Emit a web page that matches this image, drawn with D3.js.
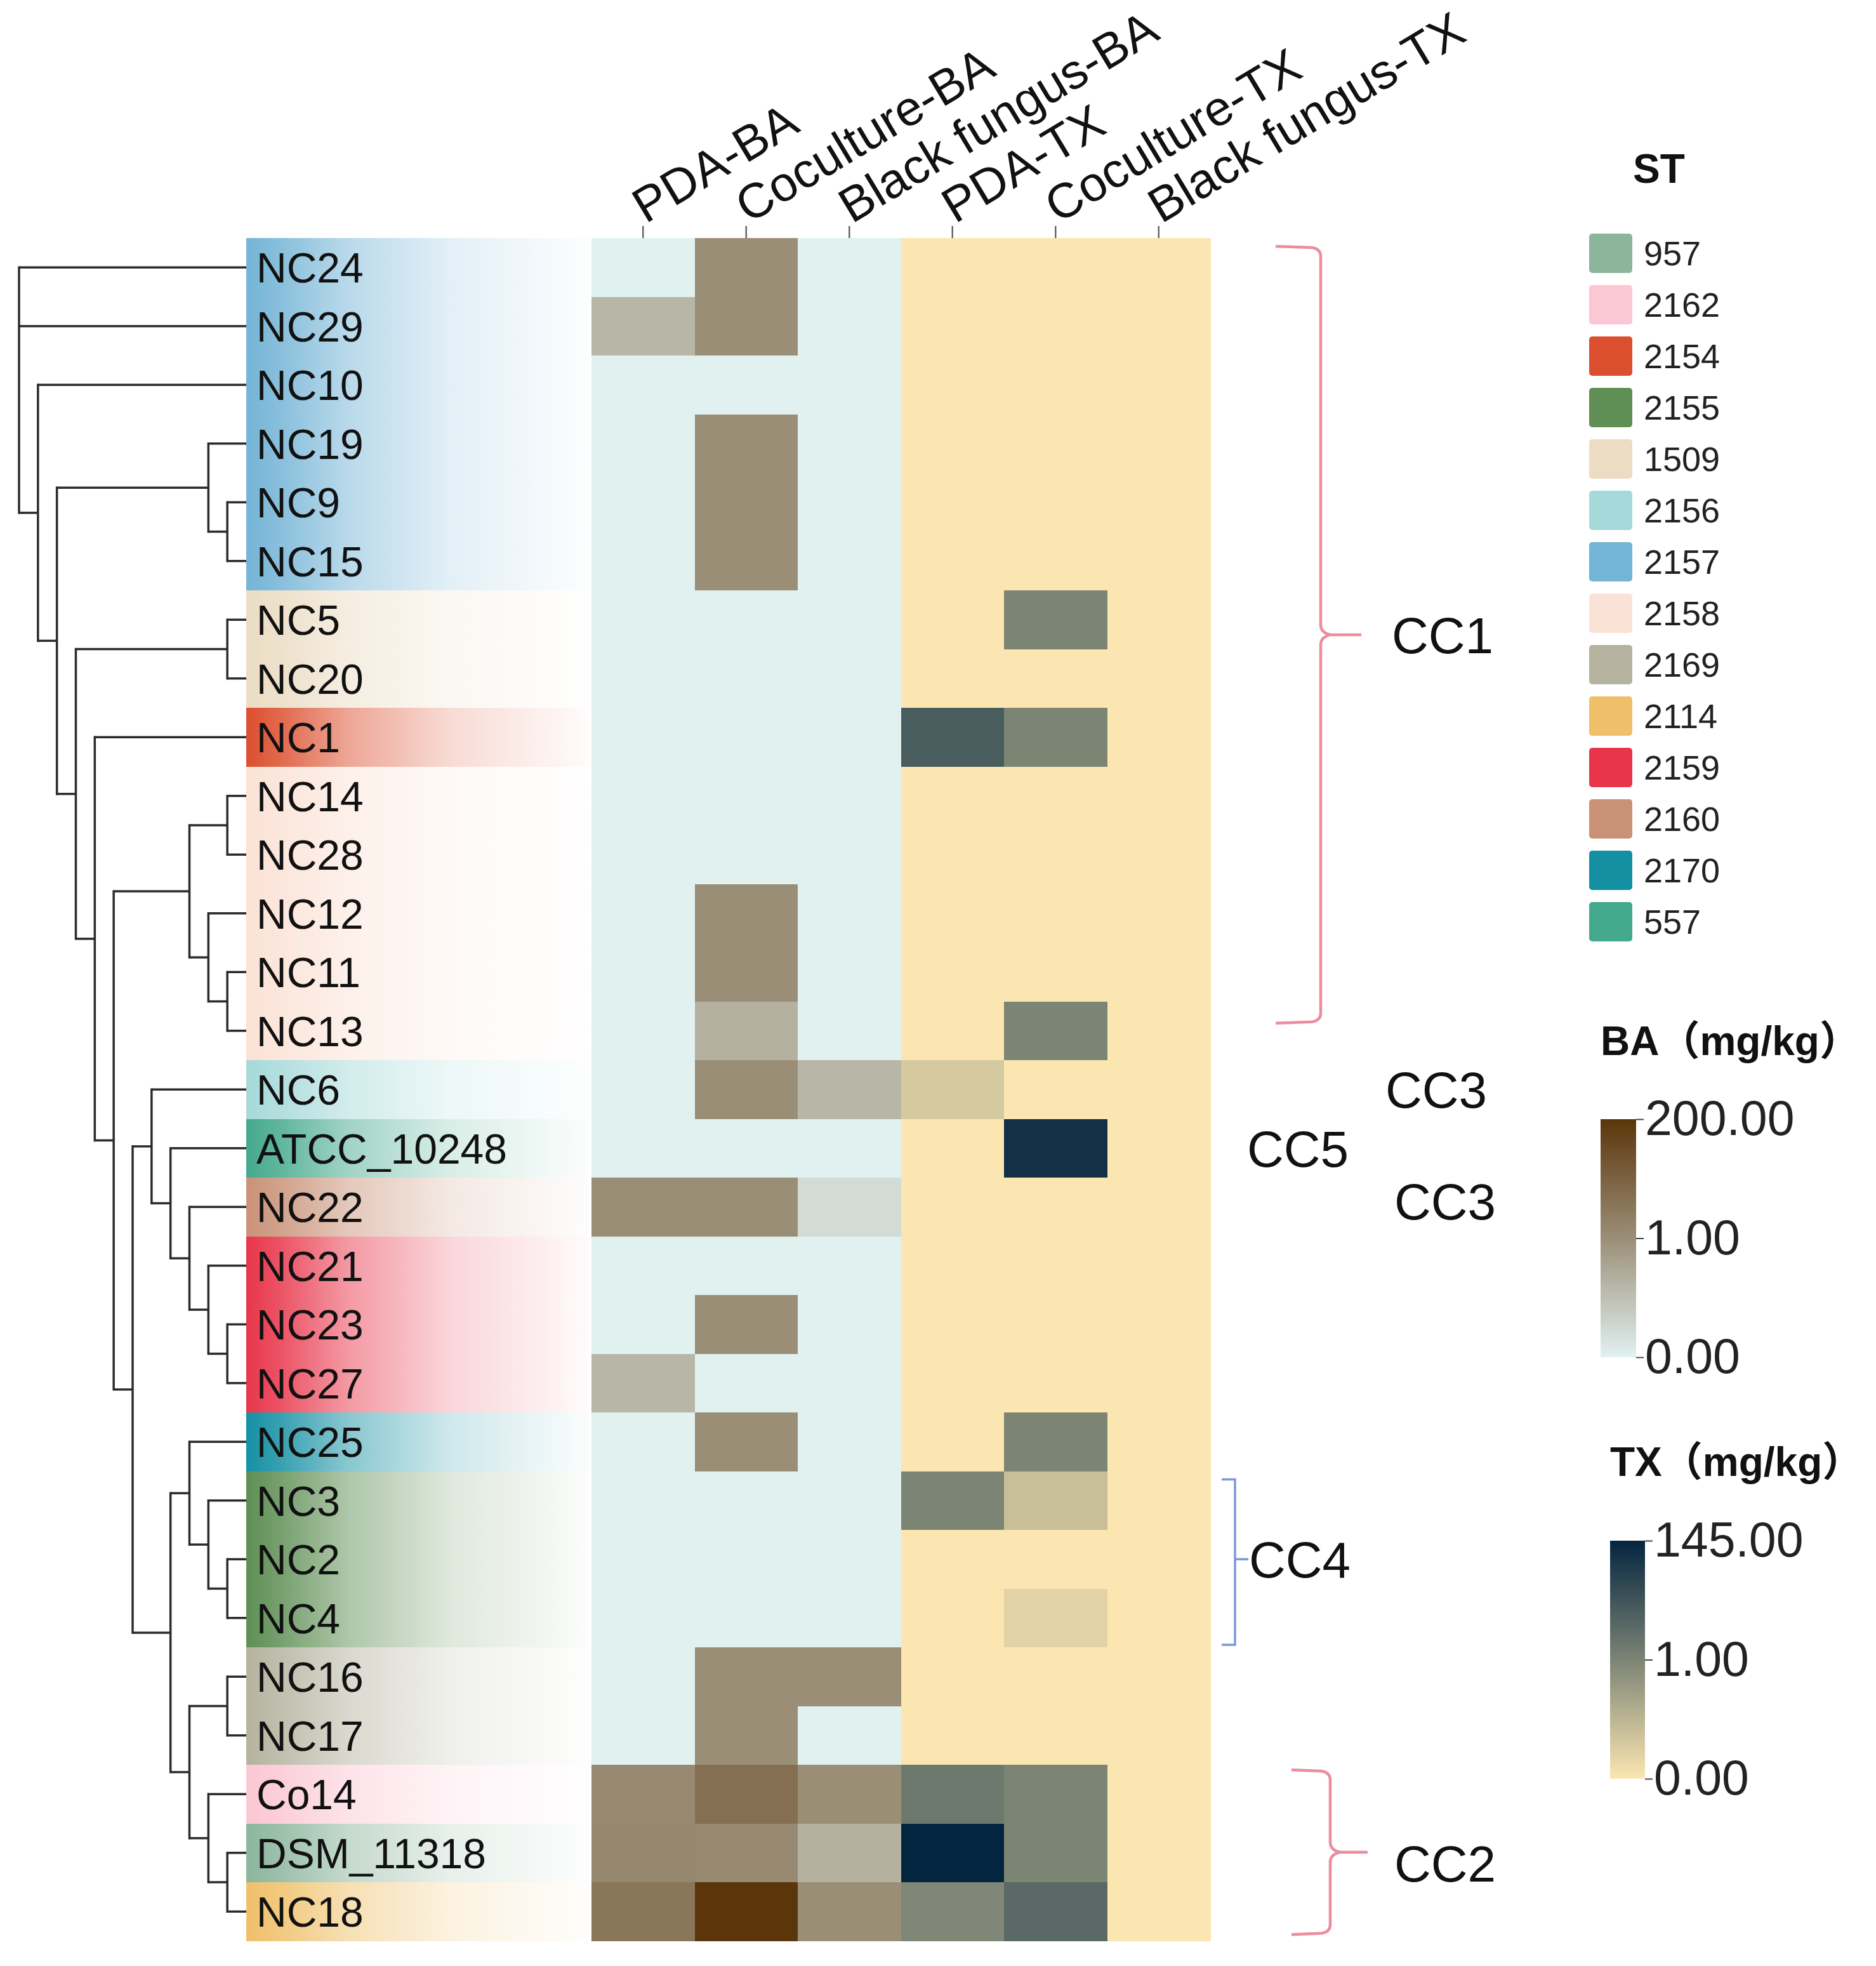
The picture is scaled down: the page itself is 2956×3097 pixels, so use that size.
<!DOCTYPE html>
<html><head><meta charset="utf-8">
<script src="https://cdn.jsdelivr.net/npm/d3@7"></script>
<style>html,body{margin:0;padding:0;background:#fff;} svg{display:block;}</style>
</head><body>
<svg id="chart" width="2956" height="3097"></svg>
<script>
// ---------------- DATA ----------------
const strains = ["NC24","NC29","NC10","NC19","NC9","NC15","NC5","NC20","NC1","NC14","NC28","NC12","NC11","NC13","NC6","ATCC_10248","NC22","NC21","NC23","NC27","NC25","NC3","NC2","NC4","NC16","NC17","Co14","DSM_11318","NC18"];
const strainST = ["2157","2157","2157","2157","2157","2157","1509","1509","2154","2158","2158","2158","2158","2158","2156","557","2160","2159","2159","2159","2170","2155","2155","2155","2169","2169","2162","957","2114"];
const columns = ["PDA-BA","Coculture-BA","Black fungus-BA","PDA-TX","Coculture-TX","Black fungus-TX"];
const baColumns = ["PDA-BA","Coculture-BA","Black fungus-BA"];
const txColumns = ["PDA-TX","Coculture-TX","Black fungus-TX"];
// BA (mg/kg): [PDA-BA, Coculture-BA, Black fungus-BA]
const baValues = [
  [0,1,0],[0.6,1,0],[0,0,0],[0,1,0],[0,1,0],[0,1,0],[0,0,0],[0,0,0],[0,0,0],[0,0,0],
  [0,0,0],[0,1,0],[0,1,0],[0,0.65,0],[0,1,0.6],[0,0,0],[1,1,0.22],[0,0,0],[0,1,0],[0.6,0,0],
  [0,1,0],[0,0,0],[0,0,0],[0,0,0],[0,1,1],[0,1,0],[10,70,1],[16,11,0.65],[54,200,1]
];
// TX (mg/kg): [PDA-TX, Coculture-TX, Black fungus-TX]
const txValues = [
  [0,0,0],[0,0,0],[0,0,0],[0,0,0],[0,0,0],[0,0,0],[0,1,0],[0,0,0],[62,1,0],[0,0,0],
  [0,0,0],[0,0,0],[0,0,0],[0,1,0],[0.3,0,0],[0,128,0],[0,0,0],[0,0,0],[0,0,0],[0,0,0],
  [0,1,0],[1,0.4,0],[0,0,0],[0,0.2,0],[0,0,0],[0,0,0],[18,1,0],[145,1,0],[0.97,42,0]
];
const stTypes  = ["957","2162","2154","2155","1509","2156","2157","2158","2169","2114","2159","2160","2170","557"];
const stColors = ["#8cb59c","#fbc7d4","#dc4f2e","#5f8f55","#ebdcc3","#a6d9d9","#74b4d6","#fbe2d6","#b5b39f","#efc069","#e8354a","#c99278","#1590a3","#44a98c"];
const baTicks = [0,1,200];
const baColors = ["#e1f1f0","#9b8e77","#5b360b"];
const txTicks = [0,1,145];
const txColors = ["#fbe6b1","#7c8474","#042540"];
// dendrogram topology (leaves in plotting order)
const tree = ["NC24","NC29",["NC10",[["NC19",["NC9","NC15"]],[["NC5","NC20"],["NC1",[[["NC14","NC28"],["NC12",["NC11","NC13"]]],[["NC6",["ATCC_10248",["NC22",["NC21",["NC23","NC27"]]]]],[["NC25",["NC3",["NC2","NC4"]]],[["NC16","NC17"],["Co14",["DSM_11318","NC18"]]]]]]]]]]];
// clonal complex annotations
const ccLabels = ["CC1","CC3","CC5","CC3","CC4","CC2"];
const ccRows   = ["NC9","NC6","ATCC_10248","NC22","NC2","DSM_11318"];

// ---------------- LAYOUT ----------------
const FONT = "'Liberation Sans', Arial, 'Noto Sans CJK SC', sans-serif";
const svg = d3.select("#chart");
const rowTop = 375, rowBottom = 3057.5;
const y = d3.scaleBand(strains, [rowTop, rowBottom]);
const x = d3.scaleBand(columns, [932, 1907]);
const stColor = d3.scaleOrdinal(stTypes, stColors);
const baScale = d3.scaleLinear(baTicks, baColors);
const txScale = d3.scaleLinear(txTicks, txColors);
const defs = svg.append("defs");

// ---- label bands with gradient ----
const bandX0 = 388, bandX1 = 928;
strains.forEach((s, i) => {
  const c = stColor(strainST[i]);
  const gid = "band" + i;
  const g = defs.append("linearGradient").attr("id", gid).attr("x1", "0%").attr("x2", "100%");
  [[0,1],[0.1,0.85],[0.3,0.5],[0.6,0.2],[1,0.02]].forEach(([o, a]) =>
    g.append("stop").attr("offset", o).attr("stop-color", c).attr("stop-opacity", a));
  svg.append("rect").attr("x", bandX0).attr("y", y(s)).attr("width", bandX1 - bandX0)
    .attr("height", y.bandwidth()).attr("fill", `url(#${gid})`).attr("shape-rendering", "crispEdges");
});
svg.append("g").selectAll("text").data(strains).join("text")
  .attr("x", 404).attr("y", d => y(d) + y.bandwidth() / 2 + 24)
  .attr("font-family", FONT).attr("font-size", 66).attr("fill", "#111").text(d => d);

// ---- dendrogram ----
const root = d3.hierarchy(tree, d => Array.isArray(d) ? d : null);
d3.cluster().separation(() => 1).size([1, 1])(root);
const tx = d3.scaleLinear([0, 1], [30, bandX0]);
const ty = d3.scaleLinear([0, 1], [rowTop, rowBottom]);
const dg = svg.append("g").attr("fill", "none").attr("stroke", "#2b2b2b").attr("stroke-width", 3.5);
root.each(n => {
  if (!n.children) return;
  const px = tx(n.y);
  const first = n.children[0], last = n.children[n.children.length - 1];
  dg.append("line").attr("x1", px).attr("x2", px).attr("y1", ty(first.x)).attr("y2", ty(last.x)).attr("stroke-linecap", "square");
  n.children.forEach(c => {
    dg.append("line").attr("x1", px).attr("x2", tx(c.y)).attr("y1", ty(c.x)).attr("y2", ty(c.x));
  });
});

// ---- heatmap ----
const cells = [];
strains.forEach((s, i) => {
  baColumns.forEach((c, j) => cells.push({ s, c, v: baValues[i][j], f: baScale }));
  txColumns.forEach((c, j) => cells.push({ s, c, v: txValues[i][j], f: txScale }));
});
svg.append("g").attr("shape-rendering", "crispEdges").selectAll("rect").data(cells).join("rect")
  .attr("x", d => x(d.c)).attr("y", d => y(d.s))
  .attr("width", x.bandwidth() + 0.6).attr("height", y.bandwidth() + 0.6)
  .attr("fill", d => d.f(d.v));

// column axis
const ax = svg.append("g").attr("transform", `translate(0,${rowTop})`)
  .call(d3.axisTop(x).tickSize(19).tickPadding(0));
ax.select(".domain").remove();
ax.selectAll(".tick line").attr("stroke", "#666").attr("stroke-width", 2.5);
ax.selectAll(".tick text").attr("x", null).attr("y", null).attr("dy", null)
  .attr("text-anchor", "start").attr("transform", "translate(4,-22) rotate(-31)")
  .attr("font-family", FONT).attr("font-size", 77).attr("fill", "#111");

// ---- clonal complex brackets ----
const ann = svg.append("g").attr("fill", "none");
function brace(xl, xv, xt, yt, yb) {
  const ym = (yt + yb) / 2;
  return `M${xl},${yt} L${xv-14},${yt+2} Q${xv},${yt+4} ${xv},${yt+16} L${xv},${ym-16} Q${xv},${ym-3} ${xv+16},${ym} L${xt},${ym}` +
         ` M${xv+16},${ym} Q${xv},${ym+3} ${xv},${ym+16} L${xv},${yb-16} Q${xv},${yb-4} ${xv-14},${yb-2} L${xl},${yb}`;
}
const yc = s => y(s) + y.bandwidth() / 2;
const cc1Top = rowTop + 13, cc1Bot = yc("NC13") - 12;
ann.append("path").attr("d", brace(2010, 2081, 2145, cc1Top, cc1Bot))
  .attr("stroke", "#ec8ca0").attr("stroke-width", 4.5);
ann.append("path").attr("d", brace(2035, 2096, 2155, y("Co14") + 8, rowBottom - 10))
  .attr("stroke", "#ec8ca0").attr("stroke-width", 4.5);
ann.append("path")
  .attr("d", `M1925,${y("NC3") + 13} L1946,${y("NC3") + 13} L1946,${y("NC4") + y.bandwidth() - 4} L1925,${y("NC4") + y.bandwidth() - 4} M1946,${yc("NC2")} L1967,${yc("NC2")}`)
  .attr("stroke", "#7b97dd").attr("stroke-width", 3.5);
const ccX = [2193, 2183, 1965, 2197, 1968, 2197];
const ccDy = [(cc1Top + cc1Bot) / 2 - yc("NC9"), 0, 0, -9, 0, 16];
svg.append("g").selectAll("text").data(ccLabels).join("text")
  .attr("x", (d, i) => ccX[i]).attr("y", (d, i) => yc(ccRows[i]) + ccDy[i] + 29)
  .attr("font-family", FONT).attr("font-size", 80).attr("fill", "#111").text(d => d);

// ---- ST legend ----
const lg = svg.append("g");
lg.append("text").attr("x", 2614).attr("y", 288).attr("text-anchor", "middle")
  .attr("font-family", FONT).attr("font-weight", "bold").attr("font-size", 64).attr("fill", "#111").text("ST");
const ly = d3.scaleBand(stTypes, [368, 368 + 81 * stTypes.length]);
lg.selectAll("rect").data(stTypes).join("rect")
  .attr("x", 2504).attr("y", d => ly(d)).attr("width", 68).attr("height", 62).attr("rx", 5)
  .attr("fill", d => stColor(d));
lg.selectAll("text.l").data(stTypes).join("text").attr("class", "l")
  .attr("x", 2590).attr("y", d => ly(d) + 31 + 19)
  .attr("font-family", FONT).attr("font-size", 54).attr("fill", "#222").text(d => d);

// ---- colour bars ----
function colorBar(id, title, ticks, colors, bx, titleY, barTop, barH, barW) {
  const g = defs.append("linearGradient").attr("id", id).attr("x1", "0%").attr("x2", "0%").attr("y1", "100%").attr("y2", "0%");
  colors.forEach((c, i) => g.append("stop").attr("offset", i / (colors.length - 1)).attr("stop-color", c));
  svg.append("text").attr("x", bx).attr("y", titleY)
    .attr("font-family", FONT).attr("font-weight", "bold").attr("font-size", 64).attr("fill", "#111").text(title);
  svg.append("rect").attr("x", bx).attr("y", barTop).attr("width", barW).attr("height", barH).attr("fill", `url(#${id})`);
  const sc = d3.scalePoint(ticks, [barTop + barH, barTop]);
  const a = svg.append("g").attr("transform", `translate(${bx + barW},0)`)
    .call(d3.axisRight(sc).tickSize(12).tickPadding(2).tickFormat(d3.format(".2f")));
  a.select(".domain").remove();
  a.selectAll(".tick line").attr("stroke", "#444").attr("stroke-width", 2);
  a.selectAll(".tick text").attr("font-family", FONT).attr("font-size", 77).attr("fill", "#222");
}
colorBar("baGrad", "BA（mg/kg）", baTicks, baColors, 2522, 1662, 1763, 375, 56);
colorBar("txGrad", "TX（mg/kg）", txTicks, txColors, 2537, 2325, 2427, 375, 55);
</script>
</body></html>
